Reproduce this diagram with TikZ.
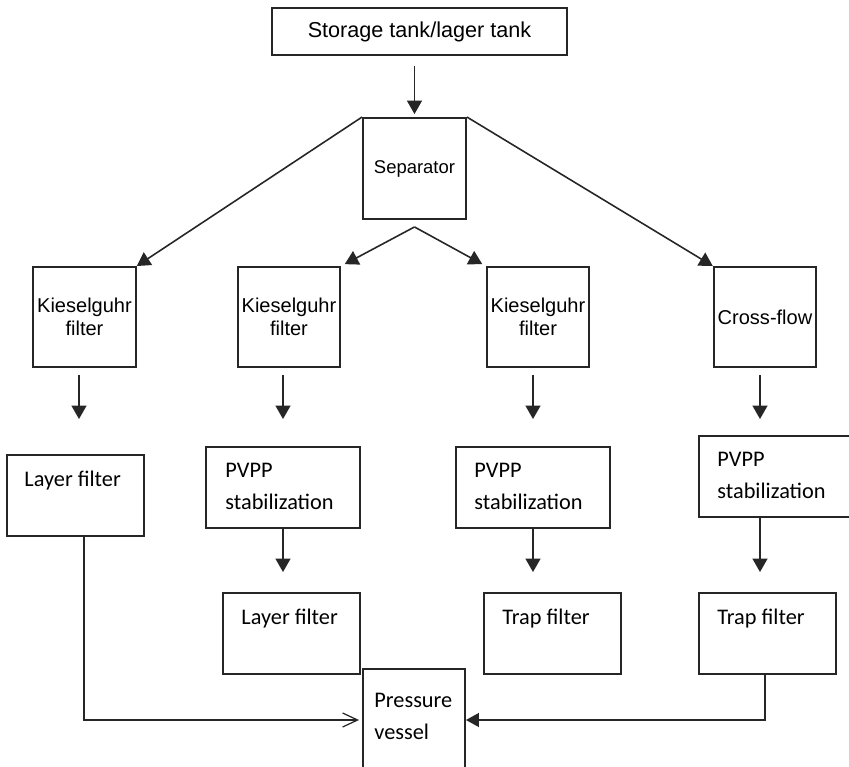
\documentclass[tikz,border=0pt]{standalone}
\usepackage{fontspec}
\usepackage{tikz}
\usetikzlibrary{arrows.meta,calc,positioning}
\newfontfamily\arialfont{Liberation Sans}
\newfontfamily\calfont{Carlito}
\definecolor{linegray}{gray}{0.15}

\begin{document}
\begin{tikzpicture}[x=0.02cm,y=-0.02cm,
    box/.style={draw=linegray,line width=1.1pt,inner sep=0pt},
    kbox/.style={box,minimum width=2.05cm,minimum height=2cm,align=center,font=\arialfont\fontsize{11.4}{13}\selectfont},
    cbox/.style={box,minimum width=2.74cm,minimum height=1.62cm},
    pbox/.style={box,minimum width=3.08cm,minimum height=1.62cm},
    ctext/.style={anchor=base west,inner sep=0pt,align=left,font=\calfont\fontsize{12.7}{18.2}\selectfont},
    arr/.style={draw=linegray,line width=0.9pt,-{Triangle[length=0.27cm,width=0.3cm]}},
    feed/.style={draw=linegray,line width=0.7pt}]
    \useasboundingbox (0,0) rectangle (849,767);
    %Top
    \node[box,minimum width=5.9cm,minimum height=0.94cm,font=\arialfont\fontsize{12.3}{14}\selectfont] (store) at (419.5,31.5) {Storage tank/lager tank};
    \node[box,minimum width=2.06cm,minimum height=2.02cm,font=\arialfont\fontsize{10.5}{12}\selectfont] (sep) at (414.5,168.5) {Separator};
    %Filters
    \node[kbox] (kg1) at (84.5,317) {Kieselguhr\\filter};
    \node[kbox] (kg2) at (289,317) {Kieselguhr\\filter};
    \node[kbox] (kg3) at (538,317) {Kieselguhr\\filter};
    \node[kbox] (cf) at (765,317) {Cross-flow};
    %Second row
    \node[cbox] (lay1) at (75.5,495.5) {};
    \node[pbox] (pvpp2) at (283,487.5) {};
    \node[pbox] (pvpp3) at (533,487.5) {};
    \node[pbox,minimum width=3.12cm] (pvpp4) at (777,476.5) {};
    %Third row
    \node[cbox] (lay2) at (291.5,633.5) {};
    \node[cbox] (trap1) at (552.5,633.5) {};
    \node[cbox] (trap2) at (767.5,633.5) {};
    \node[box,minimum width=2.04cm,minimum height=2.04cm] (pres) at (414,720) {};
    %Texts (base is the last line)
    \node[ctext] (lay1t) at ($(lay1.north west)+(18,32)$) {Layer filter};
    \node[ctext] (pvpp2t) at ($(pvpp2.north west)+(20,63)$) {PVPP\\stabilization};
    \node[ctext] (pvpp3t) at ($(pvpp3.north west)+(19,63)$) {PVPP\\stabilization};
    \node[ctext] (pvpp4t) at ($(pvpp4.north west)+(19,63)$) {PVPP\\stabilization};
    \node[ctext] (lay2t) at ($(lay2.north west)+(19,32)$) {Layer filter};
    \node[ctext] (trap1t) at ($(trap1.north west)+(19,32)$) {Trap filter};
    \node[ctext] (trap2t) at ($(trap2.north west)+(19,32)$) {Trap filter};
    \node[ctext] (prest) at ($(pres.north west)+(12,71)$) {Pressure\\vessel};
    %Arrows
    \draw[arr,shorten <=0.2cm,shorten >=0.06cm] (store.south -| sep.north) -- (sep.north);
    \draw[arr] (sep.north west) -- (kg1.north east);
    \draw[arr] (sep.north east) -- (cf.north west);
    \coordinate (fork) at ($(sep.south)+(0,7)$);
    \draw[arr,shorten >=0.08cm] (fork) -- (kg2.north east);
    \draw[arr,shorten >=0.08cm] (fork) -- (kg3.north west);
    \draw[arr,shorten <=0.14cm,shorten >=0.7cm] ([xshift=-0.11cm]kg1.south) -- ([xshift=-0.11cm]kg1.south |- lay1.north);
    \draw[arr,shorten <=0.14cm,shorten >=0.54cm] (pvpp2.north |- kg2.south) -- (pvpp2.north);
    \draw[arr,shorten <=0.14cm,shorten >=0.54cm] (pvpp3.north |- kg3.south) -- (pvpp3.north);
    \draw[arr,shorten <=0.14cm,shorten >=0.32cm] ([xshift=-0.1cm]cf.south) -- ([xshift=-0.1cm]cf.south |- pvpp4.north);
    \draw[arr,shorten >=0.4cm] (pvpp2.south) -- (pvpp2.south |- lay2.north);
    \draw[arr,shorten >=0.4cm] (pvpp3.south) -- (pvpp3.south |- trap1.north);
    \draw[arr,shorten >=0.4cm] ([xshift=-0.15cm]trap2.north |- pvpp4.south) -- ([xshift=-0.15cm]trap2.north);
    %Into the vessel
    \draw[feed,-{Straight Barb[length=0.3cm,width=0.28cm]},shorten >=0.06cm] ([xshift=0.17cm]lay1.south) |- (pres.west);
    \draw[feed,-{Triangle[length=0.26cm,width=0.28cm]}] ([xshift=-0.05cm]trap2.south) |- (pres.east);
\end{tikzpicture}
\end{document}
